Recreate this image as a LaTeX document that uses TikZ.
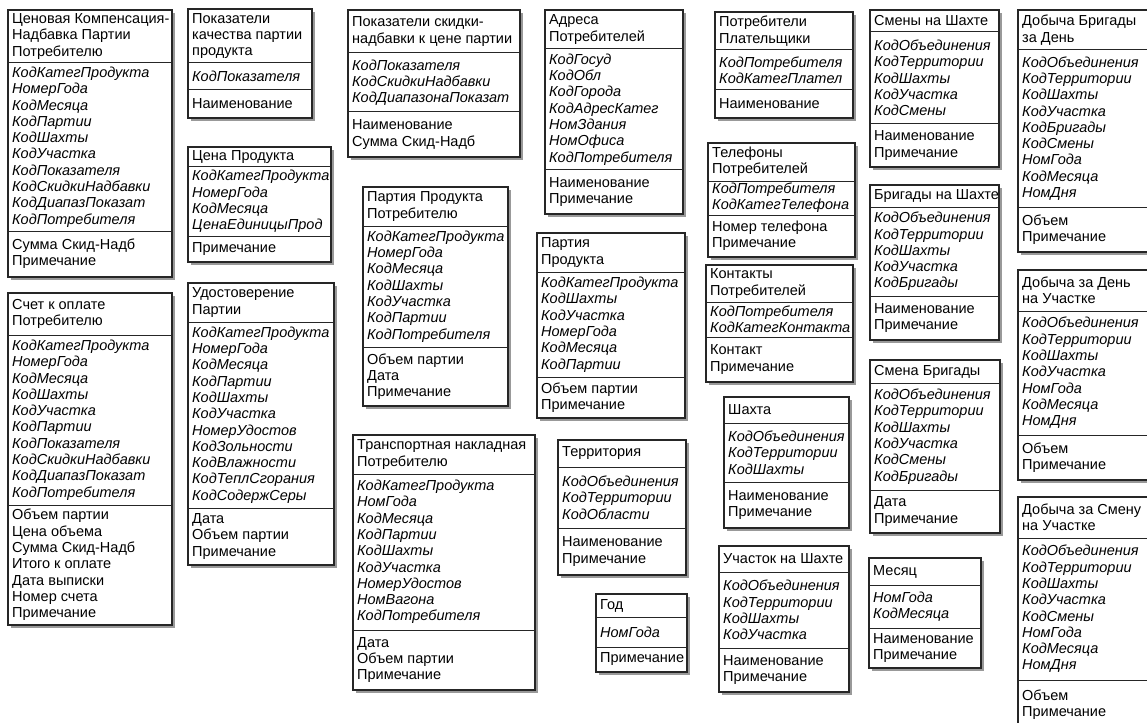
\documentclass[tikz,border=0pt]{standalone}
\usepackage{fontspec}
\setmainfont{Liberation Sans}
\tikzset{
 entframe/.style={draw=black!85, line width=1.1pt, fill=white},
 boxshadow/.style={fill=black!40},
 sepline/.style={draw=black!85, line width=1pt},
 txt/.style={anchor=west, align=left, inner sep=0pt, font=\fontsize{14.5}{16.3}\selectfont},
 keytxt/.style={txt, font=\fontsize{14.5}{16.3}\selectfont\itshape},
}
\newcommand\ent[9]{%
 \def\eid{#1}\def\ex{#2}\def\eyb{#6}\def\eyc{#7}%
 \fill[boxshadow] (#2+3,#4+3) rectangle (#3+3,#7+3);
 \draw[entframe] (#2,#4) rectangle (#3,#7);
 \draw[sepline] (#2,#5) -- (#3,#5);
 \draw[sepline] (#2,#6) -- (#3,#6);
 \node[txt] (#1-h) at (#2+4,{(#4+#5)/2}) {#8};
 \node[keytxt] (#1-k) at (#2+4,{(#5+#6)/2}) {#9};
 \entattr}
\newcommand\entattr[1]{\node[txt] (\eid-a) at (\ex+4,{(\eyb+\eyc)/2}) {#1};}
\begin{document}
\begin{tikzpicture}[x=1pt,y=-1pt]
\useasboundingbox (0,0) rectangle (1147,722);
\fill[white] (0,0) rectangle (1147,722);
\clip (0,0) rectangle (1147,722);
\ent{b1}{8}{172}{10}{63}{231}{277}{Ценовая Компенсация-\\Надбавка Партии\\Потребителю}{КодКатегПродукта\\НомерГода\\КодМесяца\\КодПартии\\КодШахты\\КодУчастка\\КодПоказателя\\КодСкидкиНадбавки\\КодДиапазПоказат\\КодПотребителя}{Сумма Скид-Надб\\Примечание}
\ent{b2}{8}{172}{293}{335}{505}{625}{Счет к оплате\\Потребителю}{КодКатегПродукта\\НомерГода\\КодМесяца\\КодШахты\\КодУчастка\\КодПартии\\КодПоказателя\\КодСкидкиНадбавки\\КодДиапазПоказат\\КодПотребителя}{Объем партии\\Цена объема\\Сумма Скид-Надб\\Итого к оплате\\Дата выписки\\Номер счета\\Примечание}
\ent{b3}{188}{312}{9}{63}{90}{118}{Показатели\\качества партии\\продукта}{КодПоказателя}{Наименование}
\ent{b4}{188}{331}{147}{167}{236}{262}{Цена Продукта}{КодКатегПродукта\\НомерГода\\КодМесяца\\ЦенаЕдиницыПрод}{Примечание}
\ent{b5}{188}{334}{283}{322}{508}{565}{Удостоверение\\Партии}{КодКатегПродукта\\НомерГода\\КодМесяца\\КодПартии\\КодШахты\\КодУчастка\\НомерУдостов\\КодЗольности\\КодВлажности\\КодТеплСгорания\\КодСодержСеры}{Дата\\Объем партии\\Примечание}
\ent{b6}{348}{520}{10}{53}{112}{157}{Показатели скидки-\\надбавки к цене партии}{КодПоказателя\\КодСкидкиНадбавки\\КодДиапазонаПоказат}{Наименование\\Сумма Скид-Надб}
\ent{b7}{363}{508}{187}{226}{347}{406}{Партия Продукта\\Потребителю}{КодКатегПродукта\\НомерГода\\КодМесяца\\КодШахты\\КодУчастка\\КодПартии\\КодПотребителя}{Объем партии\\Дата\\Примечание}
\ent{b8}{353}{535}{435}{474}{630}{690}{Транспортная накладная\\Потребителю}{КодКатегПродукта\\НомГода\\КодМесяца\\КодПартии\\КодШахты\\КодУчастка\\НомерУдостов\\НомВагона\\КодПотребителя}{Дата\\Объем партии\\Примечание}
\ent{b9}{545}{683}{10}{49}{170}{214}{Адреса\\Потребителей}{КодГосуд\\КодОбл\\КодГорода\\КодАдресКатег\\НомЗдания\\НомОфиса\\КодПотребителя}{Наименование\\Примечание}
\ent{b10}{537}{685}{233}{272}{377}{418}{Партия\\Продукта}{КодКатегПродукта\\КодШахты\\КодУчастка\\НомерГода\\КодМесяца\\КодПартии}{Объем партии\\Примечание}
\ent{b11}{558}{686}{440}{467}{528}{575}{Территория}{КодОбъединения\\КодТерритории\\КодОбласти}{Наименование\\Примечание}
\ent{b12}{596}{687}{594}{617}{647}{672}{Год}{НомГода}{Примечание}
\ent{b13}{715}{853}{12}{50}{90}{118}{Потребители\\Плательщики}{КодПотребителя\\КодКатегПлател}{Наименование}
\ent{b14}{708}{855}{143}{181}{215}{257}{Телефоны\\Потребителей}{КодПотребителя\\КодКатегТелефона}{Номер телефона\\Примечание}
\ent{b15}{706}{853}{265}{302}{337}{382}{Контакты\\Потребителей}{КодПотребителя\\КодКатегКонтакта}{Контакт\\Примечание}
\ent{b16}{724}{849}{397}{423}{482}{528}{Шахта}{КодОбъединения\\КодТерритории\\КодШахты}{Наименование\\Примечание}
\ent{b17}{719}{849}{546}{572}{648}{692}{Участок на Шахте}{КодОбъединения\\КодТерритории\\КодШахты\\КодУчастка}{Наименование\\Примечание}
\ent{b18}{870}{999}{10}{32}{124}{167}{Смены на Шахте}{КодОбъединения\\КодТерритории\\КодШахты\\КодУчастка\\КодСмены}{Наименование\\Примечание}
\ent{b19}{870}{999}{185}{207}{296}{340}{Бригады на Шахте}{КодОбъединения\\КодТерритории\\КодШахты\\КодУчастка\\КодБригады}{Наименование\\Примечание}
\ent{b20}{870}{1000}{360}{383}{490}{533}{Смена Бригады}{КодОбъединения\\КодТерритории\\КодШахты\\КодУчастка\\КодСмены\\КодБригады}{Дата\\Примечание}
\ent{b21}{869}{981}{558}{585}{628}{668}{Месяц}{НомГода\\КодМесяца}{Наименование\\Примечание}
\ent{b22}{1018}{1150}{10}{50}{207}{252}{Добыча Бригады\\за День}{КодОбъединения\\КодТерритории\\КодШахты\\КодУчастка\\КодБригады\\КодСмены\\НомГода\\КодМесяца\\НомДня}{Объем\\Примечание}
\ent{b23}{1018}{1150}{270}{311}{435}{480}{Добыча за День\\на Участке}{КодОбъединения\\КодТерритории\\КодШахты\\КодУчастка\\НомГода\\КодМесяца\\НомДня}{Объем\\Примечание}
\ent{b24}{1018}{1150}{497}{538}{680}{730}{Добыча за Смену\\на Участке}{КодОбъединения\\КодТерритории\\КодШахты\\КодУчастка\\КодСмены\\НомГода\\КодМесяца\\НомДня}{Объем\\Примечание}
\end{tikzpicture}
\end{document}
